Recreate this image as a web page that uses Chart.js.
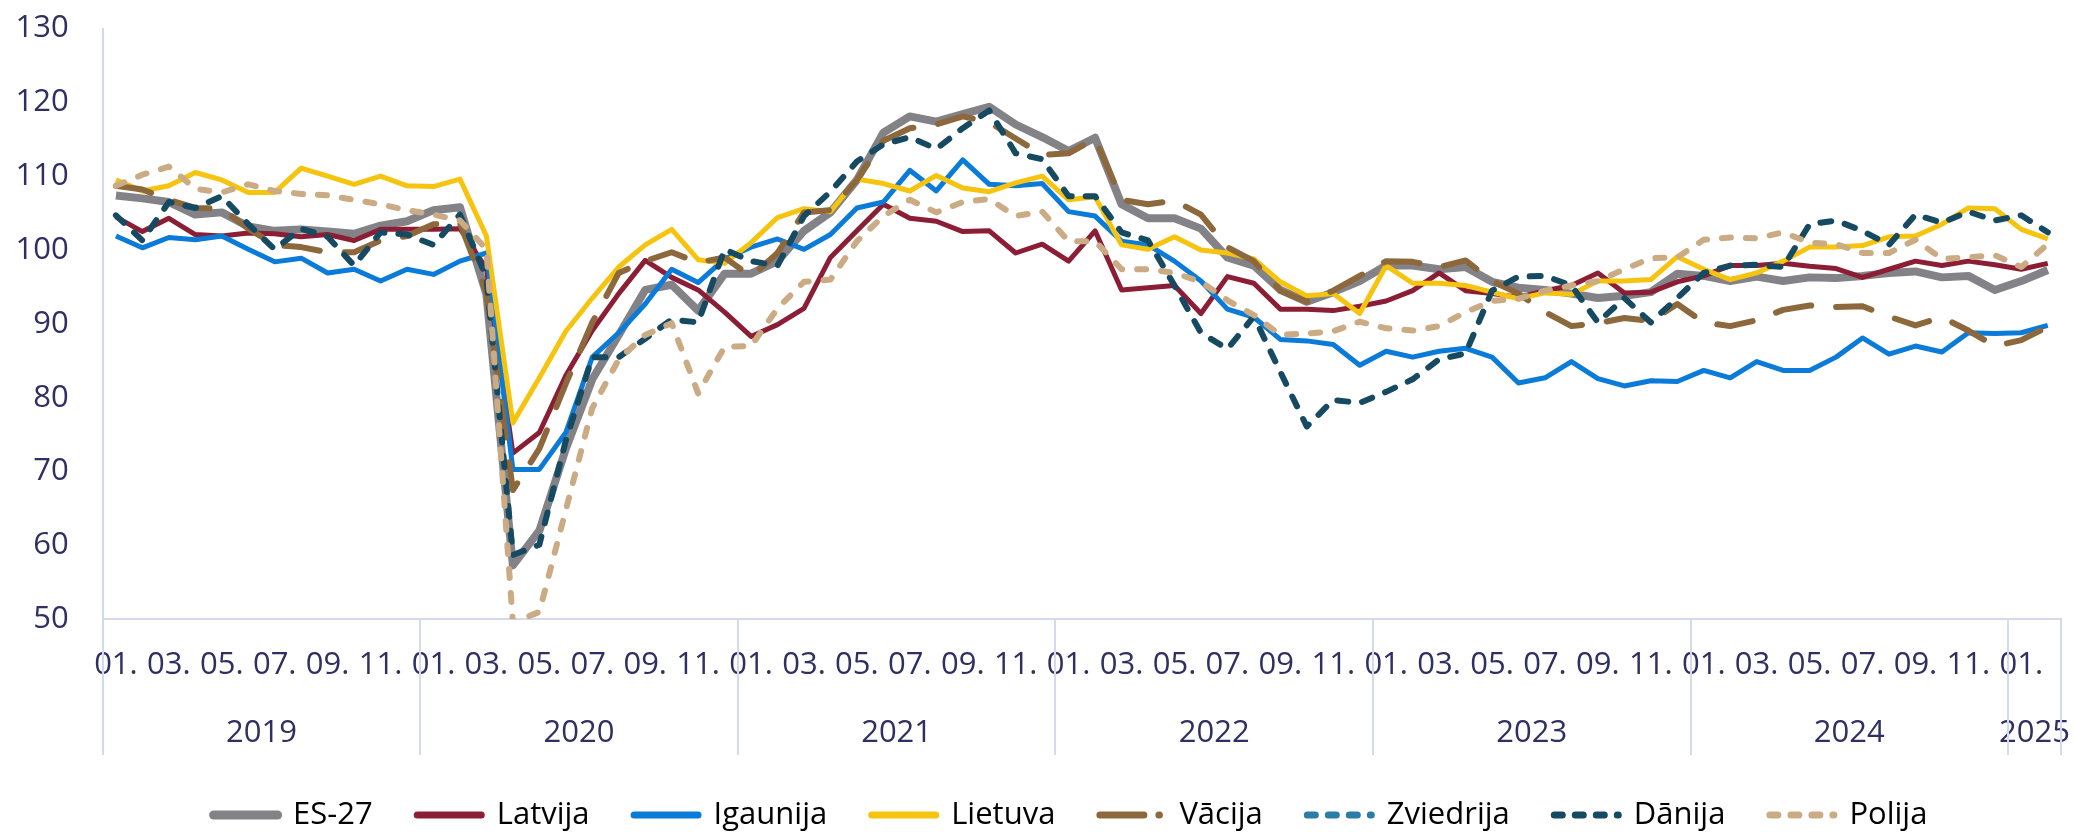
<!DOCTYPE html>
<html>
<head>
<meta charset="utf-8">
<script src="https://cdn.jsdelivr.net/npm/chart.js@4.4.1/dist/chart.umd.min.js"></script>
<style>
  html, body { margin: 0; padding: 0; background: #fff; }
  #wrap { width: 2075px; height: 834px; }
</style>
</head>
<body>
<div id="wrap"><canvas id="ppiChart" width="2075" height="834"></canvas></div>
<script>
// categories
const yearLabels = ['2019', '2020', '2021', '2022', '2023', '2024', '2025'];
const monthsPerYear = [12, 12, 12, 12, 12, 12, 2];
const monthNames = ['01.', '02.', '03.', '04.', '05.', '06.', '07.', '08.', '09.', '10.', '11.', '12.'];

// series (index), monthly 2019-01 .. 2025-02
const es27 = [
  107.4, 107.0, 106.5, 104.8, 105.1, 103.2, 102.6, 102.8, 102.5, 102.2, 103.3, 103.9,
  105.4, 105.8, 94.0, 57.3, 62.0, 73.1, 82.5, 88.5, 94.6, 95.3, 91.8, 96.8,
  96.8, 98.5, 102.6, 105.1, 109.5, 115.9, 118.1, 117.4, 118.4, 119.4, 117.0, 115.3,
  113.4, 115.2, 106.2, 104.3, 104.3, 102.9, 99.0, 97.9, 94.6, 93.0, 94.3, 95.8,
  97.9, 97.9, 97.4, 97.7, 95.7, 94.9, 94.6, 94.1, 93.5, 93.8, 94.3, 96.8,
  96.5, 95.8, 96.4, 95.8, 96.3, 96.2, 96.5, 96.9, 97.1, 96.3, 96.5, 94.6,
  95.8, 97.3
];
const latvija = [
  104.5, 102.5, 104.3, 102.1, 101.9, 102.3, 102.2, 101.8, 102.1, 101.3, 102.8, 102.8,
  102.8, 102.9, 97.5, 72.5, 75.3, 83.0, 89.1, 94.1, 98.6, 96.3, 94.6, 91.6,
  88.3, 89.9, 92.1, 99.0, 102.6, 106.2, 104.3, 103.9, 102.5, 102.6, 99.6, 100.8,
  98.5, 102.6, 94.6, 94.9, 95.2, 91.4, 96.4, 95.5, 92.0, 92.0, 91.8, 92.4,
  93.1, 94.5, 96.9, 94.5, 94.1, 93.6, 94.5, 95.2, 96.9, 94.2, 94.3, 95.7,
  96.5, 97.9, 97.9, 98.2, 97.8, 97.5, 96.3, 97.4, 98.5, 97.9, 98.5, 98.0,
  97.4, 98.2
];
const igaunija = [
  101.9, 100.3, 101.7, 101.4, 101.9, 100.1, 98.4, 98.9, 96.9, 97.4, 95.8, 97.4,
  96.7, 98.5, 99.6, 70.3, 70.3, 75.3, 85.5, 88.8, 92.7, 97.4, 95.6, 98.8,
  100.4, 101.5, 100.1, 102.1, 105.7, 106.5, 110.8, 108.0, 112.2, 108.9, 108.7, 109.0,
  105.2, 104.6, 101.2, 100.7, 98.5, 95.8, 92.0, 90.9, 87.9, 87.7, 87.2, 84.4,
  86.3, 85.5, 86.3, 86.7, 85.5, 82.0, 82.7, 84.9, 82.6, 81.6, 82.3, 82.2,
  83.7, 82.7, 84.9, 83.7, 83.7, 85.5, 88.1, 85.9, 87.0, 86.2, 88.8, 88.7,
  88.8, 89.8
];
const lietuva = [
  109.5, 108.0, 108.7, 110.5, 109.5, 107.8, 107.8, 111.1, 110.0, 108.9, 110.0, 108.7,
  108.6, 109.6, 101.9, 76.6, 82.7, 89.0, 93.5, 97.7, 100.7, 102.8, 98.7, 98.2,
  101.0, 104.4, 105.6, 105.2, 109.6, 109.0, 108.0, 110.1, 108.4, 107.9, 109.1, 110.0,
  106.8, 107.2, 100.7, 100.1, 101.8, 100.0, 99.6, 98.8, 95.7, 93.8, 94.1, 91.4,
  97.9, 95.5, 95.5, 95.2, 94.3, 93.4, 94.2, 94.0, 95.8, 95.8, 96.0, 99.1,
  97.4, 96.0, 96.9, 98.5, 100.4, 100.4, 100.6, 101.8, 101.9, 103.5, 105.7, 105.6,
  102.8, 101.5
];
const vacija = [
  108.7, 108.2, 106.8, 105.7, 105.6, 102.9, 100.7, 100.4, 99.7, 99.7, 101.3, 101.9,
  103.5, 103.6, 94.3, 67.5, 73.1, 81.9, 90.2, 96.9, 98.5, 99.7, 98.3, 99.0,
  96.4, 99.6, 105.1, 105.4, 109.5, 114.8, 116.5, 117.0, 118.1, 117.3, 115.1, 112.9,
  113.1, 115.1, 106.8, 106.2, 106.7, 104.8, 100.4, 98.5, 94.5, 93.0, 94.5, 96.5,
  98.5, 98.4, 97.7, 98.6, 95.8, 94.1, 91.6, 89.7, 90.1, 90.8, 90.4, 92.7,
  90.2, 89.7, 90.5, 91.9, 92.5, 92.3, 92.4, 91.0, 89.8, 90.9, 89.1, 87.0,
  87.8, 89.6
];
const zviedrija = [];
const danija = [
  104.7, 101.3, 106.5, 105.7, 107.3, 103.5, 100.1, 102.9, 101.8, 97.9, 102.4, 102.1,
  100.7, 104.8, 96.3, 58.7, 60.1, 74.2, 85.5, 85.5, 88.0, 90.6, 90.2, 100.1,
  98.5, 97.9, 104.6, 107.9, 112.0, 114.3, 115.3, 113.7, 116.5, 118.9, 113.1, 112.3,
  107.3, 107.3, 102.4, 101.3, 95.2, 88.8, 86.6, 91.0, 83.5, 76.1, 79.7, 79.3,
  80.8, 82.5, 85.2, 86.0, 94.5, 96.4, 96.5, 95.2, 90.2, 93.5, 90.2, 93.5,
  96.9, 97.9, 98.0, 97.7, 103.5, 104.0, 102.6, 100.7, 104.8, 103.7, 105.2, 104.0,
  104.7, 102.4
];
const polija = [
  108.7, 110.2, 111.3, 108.3, 107.8, 108.9, 108.0, 107.6, 107.4, 106.8, 106.2, 105.4,
  104.8, 104.0, 100.1, 49.5, 51.0, 64.8, 78.6, 85.2, 88.5, 90.1, 80.6, 86.9,
  87.0, 92.1, 95.7, 96.0, 101.2, 104.6, 106.8, 105.1, 106.5, 106.9, 104.6, 105.2,
  101.2, 101.2, 97.4, 97.4, 96.9, 95.7, 93.2, 91.2, 88.5, 88.7, 89.0, 90.3,
  89.4, 89.1, 89.7, 91.6, 93.1, 93.4, 94.5, 95.2, 95.8, 97.4, 98.9, 99.0,
  101.4, 101.7, 101.6, 102.4, 101.0, 100.8, 99.6, 99.6, 101.4, 98.8, 99.0, 99.3,
  97.7, 100.8
];

// y axis ticks
const yMin = 50, yMax = 130, yStep = 10;

const textColor = '#2f3061';
const axisColor = '#d6d8ee';

// month labels and year-group positions derived from the category lists
const monthLabels = [];
const yearCenters = [];
const yearBounds = [-0.5];
let start = 0;
monthsPerYear.forEach((n) => {
  for (let m = 0; m < n; m++) monthLabels.push(monthNames[m]);
  yearCenters.push(start + (n - 1) / 2);
  start += n;
  yearBounds.push(start - 0.5);
});

const series = [
  { label: 'ES-27', data: es27, color: '#838287', width: 8, dash: [], legendDash: [] },
  { label: 'Latvija', data: latvija, color: '#8b1e34', width: 5, dash: [], legendDash: [] },
  { label: 'Igaunija', data: igaunija, color: '#0a7bd8', width: 5, dash: [], legendDash: [] },
  { label: 'Lietuva', data: lietuva, color: '#f6c40e', width: 5, dash: [], legendDash: [] },
  { label: 'Vācija', data: vacija, color: '#8c683c', width: 6, dash: [36, 25], legendDash: [44, 15, 0.5, 100] },
  { label: 'Zviedrija', data: zviedrija, color: '#2b7ca6', width: 6, dash: [11, 14], legendDash: [8, 13] },
  { label: 'Dānija', data: danija, color: '#164a62', width: 6, dash: [11, 14], legendDash: [8, 13] },
  { label: 'Polija', data: polija, color: '#cbab84', width: 6, dash: [9, 15], legendDash: [8, 13] }
];

const yearSeparators = {
  id: 'yearSeparators',
  afterDraw(chart) {
    const s = chart.scales.x2;
    const ctx = chart.ctx;
    ctx.save();
    ctx.strokeStyle = axisColor;
    ctx.lineWidth = 2;
    yearBounds.forEach((b) => {
      const x = Math.round(s.getPixelForValue(b));
      ctx.beginPath();
      ctx.moveTo(x, chart.chartArea.bottom);
      ctx.lineTo(x, s.bottom);
      ctx.stroke();
    });
    ctx.restore();
  }
};

// legend sits a little right of the canvas centre in the original
const legendShift = {
  id: 'legendShift',
  afterLayout(chart) {
    if (chart.legend) {
      chart.legend.left += 40;
      chart.legend.right += 40;
    }
  }
};

Chart.defaults.font.family = "'Open Sans', sans-serif";
Chart.defaults.font.size = 31;
Chart.defaults.color = textColor;

const ctx = document.getElementById('ppiChart').getContext('2d');
new Chart(ctx, {
  type: 'line',
  data: {
    labels: monthLabels,
    datasets: series.map((s, i) => ({
      label: s.label,
      data: s.data,
      borderColor: s.color,
      backgroundColor: s.color,
      borderWidth: s.width,
      borderDash: s.dash,
      borderCapStyle: s.dash.length ? 'round' : 'butt',
      borderJoinStyle: 'round',
      pointRadius: 0,
      pointHoverRadius: 0,
      tension: 0,
      fill: false,
      order: series.length - i
    }))
  },
  options: {
    responsive: false,
    animation: false,
    devicePixelRatio: 1,
    layout: { padding: { top: 28.5, right: 14, bottom: -6.5, left: 0 } },
    plugins: {
      tooltip: { enabled: false },
      legend: {
        position: 'bottom',
        labels: {
          usePointStyle: true,
          pointStyleWidth: 64,
          padding: 44.5,
          color: textColor,
          font: { size: 31 },
          generateLabels: (chart) => chart.data.datasets.map((d, i) => ({
            text: d.label,
            fillStyle: d.borderColor,
            strokeStyle: d.borderColor,
            lineWidth: i === 0 ? 9 : 7,
            lineDash: series[i].legendDash,
            lineCap: 'round',
            pointStyle: 'line',
            hidden: !chart.isDatasetVisible(i),
            datasetIndex: i
          }))
        }
      }
    },
    scales: {
      x: {
        type: 'category',
        offset: true,
        grid: { display: false, drawTicks: false },
        border: { display: true, color: axisColor, width: 2 },
        ticks: {
          autoSkip: false,
          maxRotation: 0,
          minRotation: 0,
          padding: 27,
          color: textColor,
          callback: function (value, index) {
            return index % 2 === 0 ? this.getLabelForValue(value) : '';
          }
        },
        afterFit: (s) => { s.height = 64.2; s.paddingLeft = 0; s.paddingRight = 0; }
      },
      x2: {
        type: 'linear',
        position: 'bottom',
        bounds: 'data',
        min: -0.5,
        max: monthLabels.length - 0.5,
        grid: { display: false, drawTicks: false },
        border: { display: false },
        ticks: {
          autoSkip: false,
          maxRotation: 0,
          minRotation: 0,
          padding: 31,
          color: textColor,
          callback: (value, index) => yearLabels[index]
        },
        afterBuildTicks: (s) => { s.ticks = yearCenters.map((v) => ({ value: v })); },
        afterFit: (s) => { s.height = 71.5; s.paddingLeft = 0; s.paddingRight = 0; }
      },
      y: {
        min: yMin,
        max: yMax,
        grid: { display: false, drawTicks: false },
        border: { display: true, color: axisColor, width: 2 },
        ticks: { stepSize: yStep, padding: 34, color: textColor },
        afterFit: (s) => { s.width = 102.7; s.paddingTop = 0; s.paddingBottom = 0; }
      }
    }
  },
  plugins: [yearSeparators, legendShift]
});
</script>
</body>
</html>
